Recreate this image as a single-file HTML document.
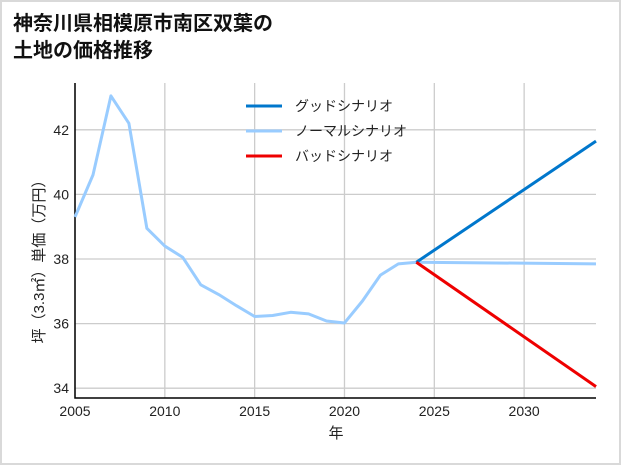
<!DOCTYPE html>
<html><head><meta charset="utf-8"><style>
body{margin:0;background:#fff;}
#wrap{position:relative;width:617px;height:461px;border:2px solid #d9d9d9;background:#fff;overflow:hidden}
#title{position:absolute;left:11px;top:9px;font:bold 20px/27px "Liberation Sans","Noto Sans CJK JP",sans-serif;color:#111;margin:0}
svg{position:absolute;left:-2px;top:-2px}
text{font-family:"Liberation Sans","Noto Sans CJK JP",sans-serif;fill:#222}
</style></head><body>
<div id="wrap">
<h1 id="title">神奈川県相模原市南区双葉の<br>土地の価格推移</h1>
<svg id="chart" width="621" height="465"></svg>
</div>
<script>
const years=[2005,2006,2007,2008,2009,2010,2011,2012,2013,2014,2015,2016,2017,2018,2019,2020,2021,2022,2023,2024];
const prices=[39.3,40.6,43.05,42.2,38.95,38.4,38.05,37.2,36.9,36.55,36.22,36.25,36.35,36.3,36.08,36.02,36.7,37.5,37.85,37.9];
const scenYears=[2024,2034];
const goodVals=[37.9,41.65];
const normalVals=[37.9,37.85];
const badVals=[37.9,34.05];
const xTicks=[2005,2010,2015,2020,2025,2030];
const yTicks=[34,36,38,40,42];
const legendLabels=["グッドシナリオ","ノーマルシナリオ","バッドシナリオ"];
const legendColors=["#0077cc","#99ccff","#ee0000"];

const L=75,R=596,T=83,B=398;
const x=v=>L+(v-2005)*(R-L)/29;
const y=v=>259-(v-38)*32.3;
const svg=document.getElementById('chart');
const NS='http://www.w3.org/2000/svg';
function mk(t,a){const e=document.createElementNS(NS,t);for(const k in a)e.setAttribute(k,a[k]);svg.appendChild(e);return e;}
xTicks.forEach(t=>{const g=mk('line',{x1:x(t),x2:x(t),y1:T,y2:B,stroke:'#cccccc','stroke-width':1.3});


const tx=mk('text',{x:x(t),y:B+18,'text-anchor':'middle','font-size':14});tx.textContent=t;

});
yTicks.forEach(t=>{const g=mk('line',{x1:L,x2:R,y1:y(t),y2:y(t),stroke:'#cccccc','stroke-width':1.3});


const tx=mk('text',{x:L-6,y:y(t)+5,'text-anchor':'end','font-size':14});tx.textContent=t;

});
const ax=mk('path',{d:`M${L},${T}V${B}H${R}`,fill:'none',stroke:'#000','stroke-width':1.5});


function line(xs,vs,c,n){const p=mk('polyline',{points:xs.map((t,i)=>x(t)+','+y(vs[i])).join(' '),fill:'none',stroke:c,'stroke-width':3,'stroke-linejoin':'round'});

}
line(years,prices,legendColors[1],'history-line');
line(scenYears,normalVals,legendColors[1],'normal-scenario-line');
line(scenYears,goodVals,legendColors[0],'good-scenario-line');
line(scenYears,badVals,legendColors[2],'bad-scenario-line');
legendLabels.forEach((s,i)=>{const yy=106+i*25;
const l=mk('line',{x1:246,x2:282,y1:yy,y2:yy,stroke:legendColors[i],'stroke-width':3});


const t=mk('text',{x:295,y:yy+5,'font-size':14});t.textContent=s;

});
const xt=mk('text',{x:336,y:438,'text-anchor':'middle','font-size':15});xt.textContent='年';


const yt=mk('text',{x:0,y:0,'text-anchor':'middle','font-size':15,transform:'translate(44,258) rotate(-90)'});yt.textContent='坪（3.3㎡）単価（万円）';


</script>
</body></html>
